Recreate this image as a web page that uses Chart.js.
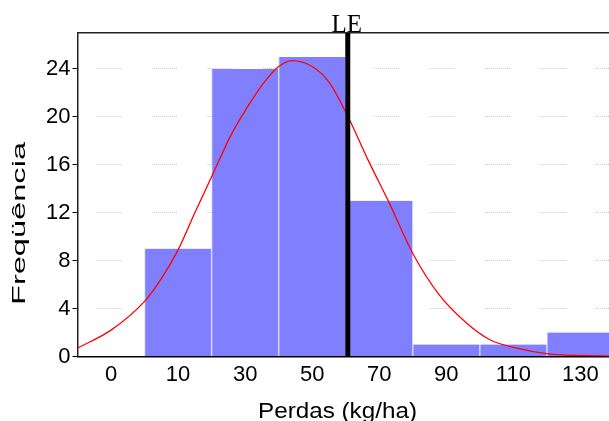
<!DOCTYPE html>
<html>
<head>
<meta charset="utf-8">
<script src="https://cdn.jsdelivr.net/npm/chart.js@4.4.1/dist/chart.umd.min.js"></script>
<style>
  html, body { margin: 0; padding: 0; background: #fff; overflow: hidden; }
  #wrap { position: absolute; left: 0; top: 0; width: 625px; height: 440px; }
</style>
</head>
<body>
<div id="wrap"><canvas id="histChart"></canvas></div>
<script>
// classes (centros) e frequências do histograma
const classLabels = ['0', '10', '30', '50', '70', '90', '110', '130'];
const frequencies = [0, 9, 24, 25, 13, 1, 1, 2];

// curva normal ajustada (x em kg/ha, y em frequência)
const curveX = [-20, -10, 0, 5, 10, 15, 20, 26, 32, 36, 40, 44, 50, 55, 60, 67, 73, 80, 88, 96, 103, 111, 121, 136, 140];
const curveY = [0.7, 2.2, 4.6, 6.5, 8.9, 12.0, 15.0, 18.6, 21.4, 23.0, 24.2, 24.7, 24.2, 22.9, 20.4, 16.2, 12.8, 8.6, 5.1, 2.8, 1.4, 0.7, 0.2, 0.05, 0.03];

// limite econômico
const leValue = 60.6;
const yTicks = [0, 4, 8, 12, 16, 20, 24];

const sansFont = '"Liberation Sans", Arial, sans-serif';
Chart.defaults.font.family = sansFont;
Chart.defaults.color = '#000';

// grade pontilhada em trechos
const gridDash = [];
for (let i = 0; i < 12; i++) gridDash.push(1, 1);
gridDash.push(1, 30.5);

const textPlugin = {
    id: 'textos',
    afterDraw(chart) {
        const { ctx, scales, chartArea } = chart;
        ctx.save();
        ctx.fillStyle = '#000';

        // rótulo LE
        ctx.font = '25px "Liberation Serif", "Times New Roman", serif';
        ctx.textAlign = 'center';
        ctx.textBaseline = 'alphabetic';
        ctx.fillText('LE', scales.x2.getPixelForValue(leValue) - 1, chartArea.top - 1);

        // título do eixo x
        ctx.font = '22px ' + sansFont;
        let w = ctx.measureText('Perdas (kg/ha)').width;
        ctx.save();
        ctx.translate(337.5, 418);
        ctx.scale(159 / w, 1);
        ctx.fillText('Perdas (kg/ha)', 0, 0);
        ctx.restore();

        // título do eixo y
        ctx.font = '19px ' + sansFont;
        w = ctx.measureText('Freqüência').width;
        ctx.save();
        ctx.translate(20, 223.5);
        ctx.rotate(-Math.PI / 2);
        ctx.scale(163 / w, 1);
        ctx.textBaseline = 'middle';
        ctx.fillText('Freqüência', 0, 0);
        ctx.restore();

        ctx.restore();
    }
};

const canvas = document.getElementById('histChart');

new Chart(canvas, {
    type: 'bar',
    data: {
        labels: classLabels,
        datasets: [
            {
                label: 'LE',
                type: 'line',
                xAxisID: 'x2',
                data: [{ x: leValue, y: 0 }, { x: leValue, y: 27 }],
                borderColor: '#000',
                borderWidth: 5,
                pointRadius: 0,
                order: 0
            },
            {
                label: 'Normal',
                type: 'line',
                xAxisID: 'x2',
                data: curveX.map((x, i) => ({ x: x, y: curveY[i] })),
                borderColor: '#ff0000',
                borderWidth: 1.3,
                pointRadius: 0,
                cubicInterpolationMode: 'monotone',
                order: 1
            },
            {
                label: 'Freqüência',
                data: frequencies,
                backgroundColor: '#8080ff',
                borderColor: '#dcdcff',
                borderWidth: { left: 1, right: 1, top: 0, bottom: 0 },
                barPercentage: 1,
                categoryPercentage: 1,
                grouped: false,
                order: 2
            }
        ]
    },
    options: {
        responsive: true,
        maintainAspectRatio: false,
        animation: false,
        layout: {
            padding: { left: 0, right: 11, top: 33, bottom: 0 }
        },
        plugins: {
            legend: { display: false },
            tooltip: { enabled: false }
        },
        scales: {
            x: {
                position: 'bottom',
                grid: { display: false },
                border: { color: '#000', width: 1.5 },
                ticks: {
                    font: { size: 22 },
                    padding: -3,
                    maxRotation: 0,
                    autoSkip: false
                },
                afterFit(scale) { scale.height = 83.5; }
            },
            x2: {
                type: 'linear',
                position: 'top',
                min: -20,
                max: 140,
                offset: false,
                grid: { display: false, offset: false },
                border: { color: '#222', width: 1.5 },
                ticks: { display: false },
                afterFit(scale) { scale.height = 0; }
            },
            y: {
                min: 0,
                max: 27,
                afterBuildTicks(scale) {
                    scale.ticks = yTicks.map(v => ({ value: v }));
                },
                grid: {
                    color: '#c4c4c4',
                    lineWidth: 1,
                    tickColor: '#000',
                    tickLength: 5,
                    tickWidth: 1
                },
                border: { color: '#222', width: 1.5, dash: gridDash, dashOffset: 37.5 },
                ticks: {
                    font: { size: 22 },
                    padding: 2
                },
                afterFit(scale) { scale.width = 77.5; }
            }
        }
    },
    plugins: [textPlugin]
});
</script>
</body>
</html>
